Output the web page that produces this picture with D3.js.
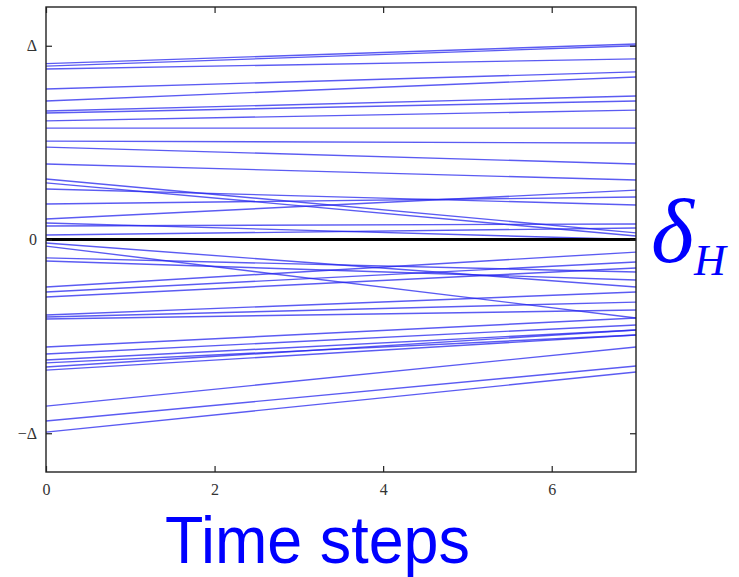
<!DOCTYPE html>
<html><head><meta charset="utf-8">
<script src="https://cdn.jsdelivr.net/npm/d3@7"></script>
<style>html,body{margin:0;padding:0;background:#fff;}</style>
</head><body>
<svg id="chart" width="739" height="577"></svg>
<script>
// Data (values in units of Δ)
const startValues = [0.908, 0.895, 0.880, 0.777, 0.715, 0.663, 0.653, 0.612, 0.575, 0.508,
  0.477, 0.390, 0.312, 0.292, 0.261, 0.183, 0.106, 0.085, 0.070, 0.023,
  -0.018, -0.034, -0.095, -0.111, -0.245, -0.271, -0.297, -0.390, -0.400, -0.410,
  -0.555, -0.591, -0.622, -0.637, -0.658, -0.674, -0.860, -0.937, -0.994];
const endValues = [1.009, 1.000, 0.932, 0.865, 0.839, 0.741, 0.715, 0.668, 0.575, 0.498,
  0.390, 0.307, 0.034, 0.018, 0.178, 0.219, 0.255, 0.000, 0.080, 0.059,
  -0.245, -0.405, -0.168, -0.209, -0.065, -0.116, -0.147, -0.271, -0.323, -0.364,
  -0.405, -0.441, -0.467, -0.493, -0.467, -0.493, -0.555, -0.653, -0.684];
const timeDomain = [0, 7];
const xTickValues = [0, 2, 4, 6];
const xTickLabels = ["0", "2", "4", "6"];
const yTickValues = [1, 0, -1];
const yTickLabels = ["\u0394", "0", "\u2212\u0394"];
const xLabel = "Time steps";

const svg = d3.select("#chart");
const L = 46, R = 636, T = 7, B = 472;
const x = d3.scaleLinear().domain(timeDomain).range([L, R]);
const y = d3.scaleLinear().domain([-1.2, 1.2]).range([B, T]);

const lineGen = d3.line().x(d => x(d.t)).y(d => y(d.v));
const series = startValues.map((s, i) => [{t: timeDomain[0], v: s}, {t: timeDomain[1], v: endValues[i]}]);

const g = svg.append("g");
g.selectAll("path.traj").data(series).join("path")
  .attr("class", "traj")
  .attr("d", lineGen)
  .attr("fill", "none")
  .attr("stroke", "#2424ee")
  .attr("stroke-opacity", 0.75)
  .attr("stroke-width", 1.4);

// zero line
g.append("path")
  .attr("d", lineGen([{t: timeDomain[0], v: 0}, {t: timeDomain[1], v: 0}]))
  .attr("stroke", "#000").attr("stroke-width", 3).attr("fill", "none");

// axes (ticks inward, MATLAB style)
const axB = d3.axisBottom(x).tickValues(xTickValues).tickSizeInner(-6).tickSizeOuter(0).tickPadding(12)
  .tickFormat((d, i) => xTickLabels[i]);
const axT = d3.axisTop(x).tickValues(xTickValues).tickSizeInner(-6).tickSizeOuter(0).tickFormat("");
const axL = d3.axisLeft(y).tickValues(yTickValues).tickSizeInner(-6).tickSizeOuter(0).tickPadding(9)
  .tickFormat((d, i) => yTickLabels[i]);
const axR = d3.axisRight(y).tickValues(yTickValues).tickSizeInner(-6).tickSizeOuter(0).tickFormat("");

function style(sel) {
  sel.attr("font-family", "Liberation Serif, Times New Roman, serif").attr("font-size", 16);
  sel.select(".domain").remove();
  sel.selectAll("line").attr("stroke", "#222").attr("stroke-width", 1.2);
  sel.selectAll("text").attr("font-family", "Liberation Serif, Times New Roman, serif")
    .attr("font-size", 16).attr("fill", "#333");
}
svg.append("g").attr("transform", `translate(0,${B})`).call(axB).call(style);
svg.append("g").attr("transform", `translate(0,${T})`).call(axT).call(style);
svg.append("g").attr("transform", `translate(${L},0)`).call(axL).call(style);
svg.append("g").attr("transform", `translate(${R},0)`).call(axR).call(style);

svg.append("rect").attr("x", L).attr("y", T).attr("width", R - L).attr("height", B - T)
  .attr("fill", "none").attr("stroke", "#222").attr("stroke-width", 1.4);

// x label
svg.append("text").attr("x", 165).attr("y", 563)
  .attr("font-family", "Liberation Sans Narrow, Liberation Sans, Arial, sans-serif")
  .attr("font-size", 66).attr("fill", "#0000ff")
  .attr("textLength", 305).attr("lengthAdjust", "spacingAndGlyphs")
  .text(xLabel);

// delta_H label
svg.append("text").attr("x", 651).attr("y", 262)
  .attr("font-family", "Liberation Serif, Times New Roman, serif")
  .attr("font-style", "italic").attr("fill", "#0000ff")
  .attr("font-size", 92).text("\u03b4");
svg.append("text").attr("x", 694).attr("y", 275)
  .attr("font-family", "Liberation Serif, Times New Roman, serif")
  .attr("font-style", "italic").attr("fill", "#0000ff")
  .attr("font-size", 44).text("H");
</script>
</body></html>
